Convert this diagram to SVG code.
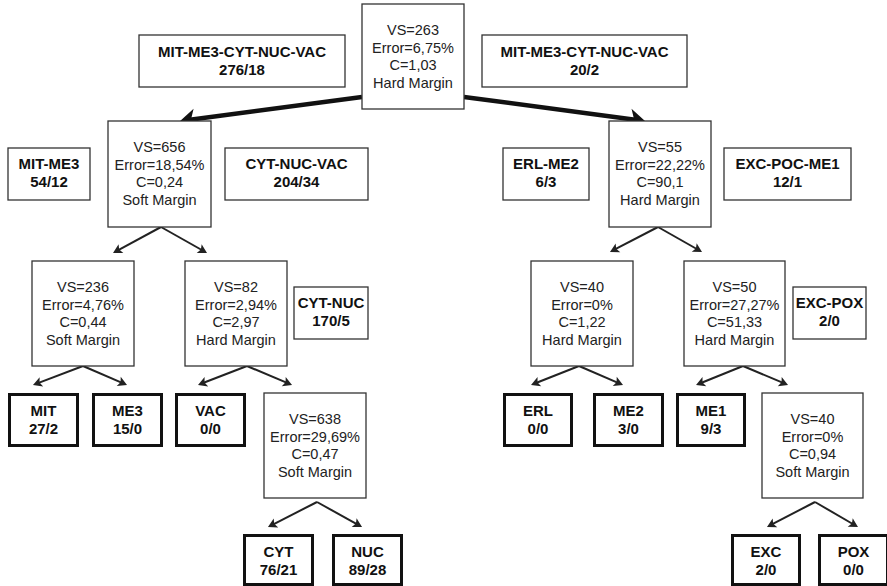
<svg xmlns="http://www.w3.org/2000/svg" width="887" height="586" viewBox="0 0 887 586">
<style>
.bx{fill:#fff;stroke:#333;stroke-width:1.3}
.lf{fill:#fff;stroke:#111;stroke-width:3}
.t{font-family:"Liberation Sans",Arial,sans-serif;font-size:14.5px;fill:#222;text-anchor:middle}
.b{font-family:"Liberation Sans",Arial,sans-serif;font-size:15px;font-weight:bold;fill:#111;text-anchor:middle}
.big{fill:none;stroke:#111;stroke-width:4.5}
.sm{fill:none;stroke:#222;stroke-width:2}
</style>
<defs>
<marker id="ab" markerUnits="userSpaceOnUse" viewBox="-16 -11 17 22" refX="-10" refY="0" markerWidth="17" markerHeight="22" orient="auto">
<path d="M0,0 L-15,-10.5 L-11,0 L-15,10.5 Z" fill="#111"/>
</marker>
<marker id="as" markerUnits="userSpaceOnUse" viewBox="-10 -6 11 12" refX="-6" refY="0" markerWidth="11" markerHeight="12" orient="auto">
<path d="M0,0 L-9,-5 L-7,0 L-9,5 Z" fill="#222"/>
</marker>
</defs>

<g id="connectors">
<path class="big" d="M362,97 L190,119.7" marker-end="url(#ab)"/>
<path class="big" d="M464,97 L635.1,119.7" marker-end="url(#ab)"/>
<path class="sm" d="M161,227 L118.3,250.1" marker-end="url(#as)"/>
<path class="sm" d="M161,227 L201.8,250" marker-end="url(#as)"/>
<path class="sm" d="M83,366 L38.6,382.9" marker-end="url(#as)"/>
<path class="sm" d="M83,366 L121.5,382.6" marker-end="url(#as)"/>
<path class="sm" d="M247,366 L203.6,382.8" marker-end="url(#as)"/>
<path class="sm" d="M247,366 L286.5,382.7" marker-end="url(#as)"/>
<path class="sm" d="M317,502 L273.3,524.3" marker-end="url(#as)"/>
<path class="sm" d="M317,502 L356.8,524.1" marker-end="url(#as)"/>
<path class="sm" d="M658,227 L615.3,249.2" marker-end="url(#as)"/>
<path class="sm" d="M658,227 L696.8,249" marker-end="url(#as)"/>
<path class="sm" d="M579,366 L536.6,382.8" marker-end="url(#as)"/>
<path class="sm" d="M579,366 L617.5,382.6" marker-end="url(#as)"/>
<path class="sm" d="M743,366 L701.6,382.8" marker-end="url(#as)"/>
<path class="sm" d="M743,366 L782.5,382.7" marker-end="url(#as)"/>
<path class="sm" d="M815,502 L772.3,524.2" marker-end="url(#as)"/>
<path class="sm" d="M815,502 L852.8,524" marker-end="url(#as)"/>
</g>

<g id="root">
<rect class="bx" x="362" y="4" width="102" height="105"/>
<text class="t" x="413" y="35">VS=263</text>
<text class="t" x="413" y="52.7">Error=6,75%</text>
<text class="t" x="413" y="70.4">C=1,03</text>
<text class="t" x="413" y="88.1">Hard Margin</text>
</g>
<g id="label-top-left">
<rect class="bx" x="139" y="35" width="206" height="52"/>
<text class="b" x="242" y="57">MIT-ME3-CYT-NUC-VAC</text>
<text class="b" x="242" y="75">276/18</text>
</g>
<g id="label-top-right">
<rect class="bx" x="482" y="35" width="205" height="52"/>
<text class="b" x="584.5" y="57">MIT-ME3-CYT-NUC-VAC</text>
<text class="b" x="584.5" y="75">20/2</text>
</g>

<g id="node-656">
<rect class="bx" x="108" y="121" width="103" height="106"/>
<text class="t" x="159.5" y="152">VS=656</text>
<text class="t" x="159.5" y="169.7">Error=18,54%</text>
<text class="t" x="159.5" y="187.4">C=0,24</text>
<text class="t" x="159.5" y="205.1">Soft Margin</text>
</g>
<g id="label-mit-me3">
<rect class="bx" x="8" y="148" width="82" height="52"/>
<text class="b" x="49" y="169">MIT-ME3</text>
<text class="b" x="49" y="187">54/12</text>
</g>
<g id="label-cyt-nuc-vac">
<rect class="bx" x="225" y="148" width="143" height="52"/>
<text class="b" x="296.5" y="169">CYT-NUC-VAC</text>
<text class="b" x="296.5" y="187">204/34</text>
</g>

<g id="node-55">
<rect class="bx" x="609" y="121" width="102" height="106"/>
<text class="t" x="660" y="152">VS=55</text>
<text class="t" x="660" y="169.7">Error=22,22%</text>
<text class="t" x="660" y="187.4">C=90,1</text>
<text class="t" x="660" y="205.1">Hard Margin</text>
</g>
<g id="label-erl-me2">
<rect class="bx" x="503" y="148" width="86" height="52"/>
<text class="b" x="546" y="169">ERL-ME2</text>
<text class="b" x="546" y="187">6/3</text>
</g>
<g id="label-exc-poc-me1">
<rect class="bx" x="724" y="148" width="127" height="52"/>
<text class="b" x="787.5" y="169">EXC-POC-ME1</text>
<text class="b" x="787.5" y="187">12/1</text>
</g>

<g id="node-236">
<rect class="bx" x="32" y="261" width="102" height="105"/>
<text class="t" x="83" y="292">VS=236</text>
<text class="t" x="83" y="309.7">Error=4,76%</text>
<text class="t" x="83" y="327.4">C=0,44</text>
<text class="t" x="83" y="345.1">Soft Margin</text>
</g>
<g id="node-82">
<rect class="bx" x="185" y="261" width="102" height="105"/>
<text class="t" x="236" y="292">VS=82</text>
<text class="t" x="236" y="309.7">Error=2,94%</text>
<text class="t" x="236" y="327.4">C=2,97</text>
<text class="t" x="236" y="345.1">Hard Margin</text>
</g>
<g id="label-cyt-nuc">
<rect class="bx" x="294" y="287" width="74" height="52"/>
<text class="b" x="331" y="308">CYT-NUC</text>
<text class="b" x="331" y="326">170/5</text>
</g>
<g id="node-40a">
<rect class="bx" x="531" y="261" width="102" height="105"/>
<text class="t" x="582" y="292">VS=40</text>
<text class="t" x="582" y="309.7">Error=0%</text>
<text class="t" x="582" y="327.4">C=1,22</text>
<text class="t" x="582" y="345.1">Hard Margin</text>
</g>
<g id="node-50">
<rect class="bx" x="684" y="261" width="101" height="105"/>
<text class="t" x="734.5" y="292">VS=50</text>
<text class="t" x="734.5" y="309.7">Error=27,27%</text>
<text class="t" x="734.5" y="327.4">C=51,33</text>
<text class="t" x="734.5" y="345.1">Hard Margin</text>
</g>
<g id="label-exc-pox">
<rect class="bx" x="793" y="287" width="73" height="52"/>
<text class="b" x="829.5" y="308">EXC-POX</text>
<text class="b" x="829.5" y="326">2/0</text>
</g>

<g id="leaf-mit">
<rect class="lf" x="9.5" y="394.5" width="68" height="51"/>
<text class="b" x="43.5" y="416">MIT</text>
<text class="b" x="43.5" y="434">27/2</text>
</g>
<g id="leaf-me3">
<rect class="lf" x="93.5" y="394.5" width="68" height="51"/>
<text class="b" x="127.5" y="416">ME3</text>
<text class="b" x="127.5" y="434">15/0</text>
</g>
<g id="leaf-vac">
<rect class="lf" x="176.5" y="394.5" width="68" height="51"/>
<text class="b" x="210.5" y="416">VAC</text>
<text class="b" x="210.5" y="434">0/0</text>
</g>
<g id="node-638">
<rect class="bx" x="264" y="393" width="102" height="105"/>
<text class="t" x="315" y="424">VS=638</text>
<text class="t" x="315" y="441.7">Error=29,69%</text>
<text class="t" x="315" y="459.4">C=0,47</text>
<text class="t" x="315" y="477.1">Soft Margin</text>
</g>
<g id="leaf-erl">
<rect class="lf" x="504.5" y="394.5" width="67" height="51"/>
<text class="b" x="538" y="416">ERL</text>
<text class="b" x="538" y="434">0/0</text>
</g>
<g id="leaf-me2">
<rect class="lf" x="594.5" y="394.5" width="68" height="51"/>
<text class="b" x="628.5" y="416">ME2</text>
<text class="b" x="628.5" y="434">3/0</text>
</g>
<g id="leaf-me1">
<rect class="lf" x="677.5" y="394.5" width="67" height="51"/>
<text class="b" x="711" y="416">ME1</text>
<text class="b" x="711" y="434">9/3</text>
</g>
<g id="node-40b">
<rect class="bx" x="762" y="393" width="101" height="105"/>
<text class="t" x="812.5" y="424">VS=40</text>
<text class="t" x="812.5" y="441.7">Error=0%</text>
<text class="t" x="812.5" y="459.4">C=0,94</text>
<text class="t" x="812.5" y="477.1">Soft Margin</text>
</g>

<g id="leaf-cyt">
<rect class="lf" x="244.5" y="535.5" width="68" height="49"/>
<text class="b" x="278.5" y="557">CYT</text>
<text class="b" x="278.5" y="575">76/21</text>
</g>
<g id="leaf-nuc">
<rect class="lf" x="333.5" y="535.5" width="68" height="49"/>
<text class="b" x="367.5" y="557">NUC</text>
<text class="b" x="367.5" y="575">89/28</text>
</g>
<g id="leaf-exc">
<rect class="lf" x="732.5" y="535.5" width="67" height="49"/>
<text class="b" x="766" y="557">EXC</text>
<text class="b" x="766" y="575">2/0</text>
</g>
<g id="leaf-pox">
<rect class="lf" x="819.5" y="535.5" width="68" height="49"/>
<text class="b" x="853.5" y="557">POX</text>
<text class="b" x="853.5" y="575">0/0</text>
</g>
</svg>
